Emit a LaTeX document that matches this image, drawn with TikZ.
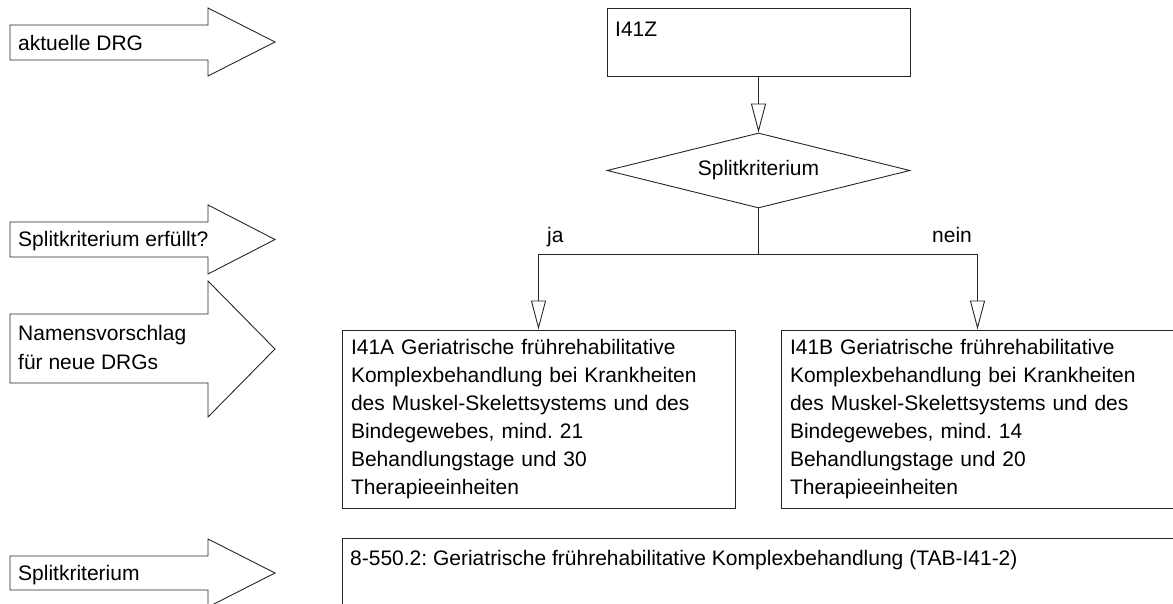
\documentclass[tikz,border=0pt]{standalone}
\usepackage{fontspec}
\setmainfont{Liberation Sans}
\usetikzlibrary{shapes.geometric,arrows.meta}
\frenchspacing

\tikzset{
  every node/.style={font=\fontsize{21}{28}\selectfont},
  line/.style={draw=black!85, line width=0.9pt},
  boxnode/.style={line, rectangle, inner sep=0pt},
  textbox/.style={line, rectangle, inner xsep=9pt, inner ysep=0pt,
    text width=375pt, minimum width=393pt, minimum height=178pt, align=left},
  decision/.style={line, diamond, inner sep=0pt, shape aspect=4.04,
    minimum width=303pt, minimum height=75pt},
  flow/.style={line, -{Triangle[open, length=29pt, width=15pt, line width=0.9pt]}},
  sidearrow/.style={line, line join=miter},
  plain/.style={inner sep=0pt, anchor=base west},
}

\begin{document}
\begin{tikzpicture}[x=1pt, y=-1pt]
\useasboundingbox (0,0) rectangle (1173,604);

% process stages on the left
\draw[sidearrow] (10,25) -- (208,25) -- (208,8) -- (275,42) -- (208,76) -- (208,60) -- (10,60) -- cycle;
\node[plain] (t1) at (18,50.5) {aktuelle DRG};

\draw[sidearrow] (10,222) -- (208,222) -- (208,205) -- (275,239.5) -- (208,274) -- (208,257) -- (10,257) -- cycle;
\node[plain] (t2) at (18,247) {Splitkriterium erfüllt?};

\draw[sidearrow] (10,314) -- (208,314) -- (208,281) -- (275,349) -- (208,417) -- (208,383) -- (10,383) -- cycle;
\node[plain] (t3a) at (18,340) {Namensvorschlag};
\node[plain] (t3b) at (18,369) {für neue DRGs};

\draw[sidearrow] (10,556) -- (208,556) -- (208,539) -- (275,573) -- (208,607) -- (208,590) -- (10,590) -- cycle;
\node[plain] (t4) at (18,580) {Splitkriterium};

% current DRG and split decision
\node[boxnode, minimum width=303pt, minimum height=68pt] (z) at (758.5,42) {};
\node[plain] (zt) at (615,37) {I41Z};

\node[decision] (d) at (758.5,170.5) {Splitkriterium};
\draw[flow] (z.south) -- (d.north);

\coordinate (split) at (758.5,254);
\node[textbox] (a) at (538.5,419) {I41A Geriatrische frührehabilitative\\
Komplexbehandlung bei Krankheiten\\
des Muskel-Skelettsystems und des\\
Bindegewebes, mind. 21\\
Behandlungstage und 30\\
Therapieeinheiten};
\node[textbox] (b) at (977.5,419) {I41B Geriatrische frührehabilitative\\
Komplexbehandlung bei Krankheiten\\
des Muskel-Skelettsystems und des\\
Bindegewebes, mind. 14\\
Behandlungstage und 20\\
Therapieeinheiten};

\draw[line] (d.south) -- (split);
\draw[flow] (split) -| (a.north);
\draw[flow] (split) -| (b.north);
\node[plain] (ja) at (547,243) {ja};
\node[plain] (nein) at (932,243) {nein};

% split criterion
\node[boxnode, anchor=north west, minimum width=900pt, minimum height=100pt] (c) at (342,538) {};
\node[plain] (ct) at (350,565) {8-550.2: Geriatrische frührehabilitative Komplexbehandlung (TAB-I41-2)};
\end{tikzpicture}
\end{document}
